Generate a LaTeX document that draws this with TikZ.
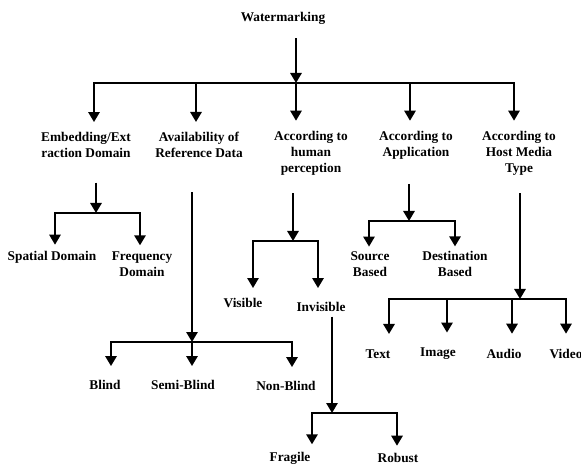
\documentclass[tikz,border=0pt]{standalone}
\usepackage{fontspec}
\setmainfont{Liberation Serif}
\usetikzlibrary{arrows.meta}

\begin{document}
\begin{tikzpicture}[x=0.75pt,y=-0.75pt,line width=1.4pt,>/.tip={Triangle[width=8.5pt,length=7.5pt]},
	lbl/.style={inner sep=0pt,align=center,font=\fontsize{10}{12}\selectfont\bfseries}]
	\useasboundingbox (0,0) rectangle (581,466);

	\draw (283,18) node (wm) [lbl] {Watermarking};
	\draw (86,145) node (emb) [lbl] {Embedding/Ext\\raction Domain};
	\draw (199,145) node (avail) [lbl] {Availability of\\Reference Data};
	\draw (311,153) node (perc) [lbl] {According to\\human\\perception};
	\draw (416,145) node (appl) [lbl] {According to\\Application};
	\draw (519,153) node (host) [lbl] {According to\\Host Media\\Type};

	\draw (52,257) node (spat) [lbl] {Spatial Domain};
	\draw (142,264) node (freq) [lbl] {Frequency\\Domain};
	\draw (105,385) node (blind) [lbl] {Blind};
	\draw (183,385) node (semi) [lbl] {Semi-Blind};
	\draw (286,386) node (nonb) [lbl] {Non-Blind};
	\draw (243,303) node (vis) [lbl] {Visible};
	\draw (321,307) node (invis) [lbl] {Invisible};
	\draw (370,264) node (src) [lbl] {Source\\Based};
	\draw (455,264) node (dest) [lbl] {Destination\\Based};
	\draw (378,354) node (text) [lbl] {Text};
	\draw (438,354) node (image) [lbl] {Image};
	\draw (504,354) node (audio) [lbl] {Audio};
	\draw (566,354) node (video) [lbl] {Video};
	\draw (290,458) node (frag) [lbl] {Fragile};
	\draw (398,458) node (rob) [lbl] {Robust};

	% Watermarking
	\coordinate (wm-j) at (296,83);
	\draw[->,shorten <=10pt] (wm.south -| wm-j) -- (wm-j);
	\foreach \x/\n in {94/emb,196/avail,296/perc,410/appl,514/host}
		\draw[->,shorten >=7pt] (wm-j) -| (\x,0 |- \n.north);

	% domain
	\coordinate (emb-j) at (96,213);
	\draw[->,shorten <=18pt] (emb.south -| emb-j) -- (emb-j);
	\foreach \x/\n in {55/spat,140/freq}
		\draw[->,shorten >=4pt] (emb-j) -| (\x,0 |- \n.north);

	% reference data
	\coordinate (avail-j) at (192,342);
	\draw[->,shorten <=25pt] (avail.south -| avail-j) -- (avail-j);
	\foreach \x/\n in {111/blind,192/semi,292/nonb}
		\draw[->,shorten >=10pt] (avail-j) -| (\x,0 |- \n.north);

	% perception
	\coordinate (perc-j) at (293,241);
	\draw[->,shorten <=13pt] (perc.south -| perc-j) -- (perc-j);
	\draw[->,shorten >=7pt] (perc-j) -| (253,0 |- vis.north);
	\draw[->,shorten >=10pt] (perc-j) -| (318,0 |- invis.north);
	\coordinate (invis-j) at (332,413);
	\draw[->,shorten <=3pt] (invis.south -| invis-j) -- (invis-j);
	\foreach \x/\n in {312/frag,397/rob}
		\draw[->,shorten >=5pt] (invis-j) -| (\x,0 |- \n.north);

	% application
	\coordinate (appl-j) at (409,221);
	\draw[->,shorten <=18pt] (appl.south -| appl-j) -- (appl-j);
	\foreach \x/\n in {369/src,455/dest}
		\draw[->,shorten >=3pt] (appl-j) -| (\x,0 |- \n.north);

	% host media
	\coordinate (host-j) at (520,299);
	\draw[->,shorten <=13pt] (host.south -| host-j) -- (host-j);
	\foreach \x/\n in {389/text,447/image,512/audio,566/video}
		\draw[->,shorten >=11pt] (host-j) -| (\x,0 |- \n.north);
\end{tikzpicture}
\end{document}
